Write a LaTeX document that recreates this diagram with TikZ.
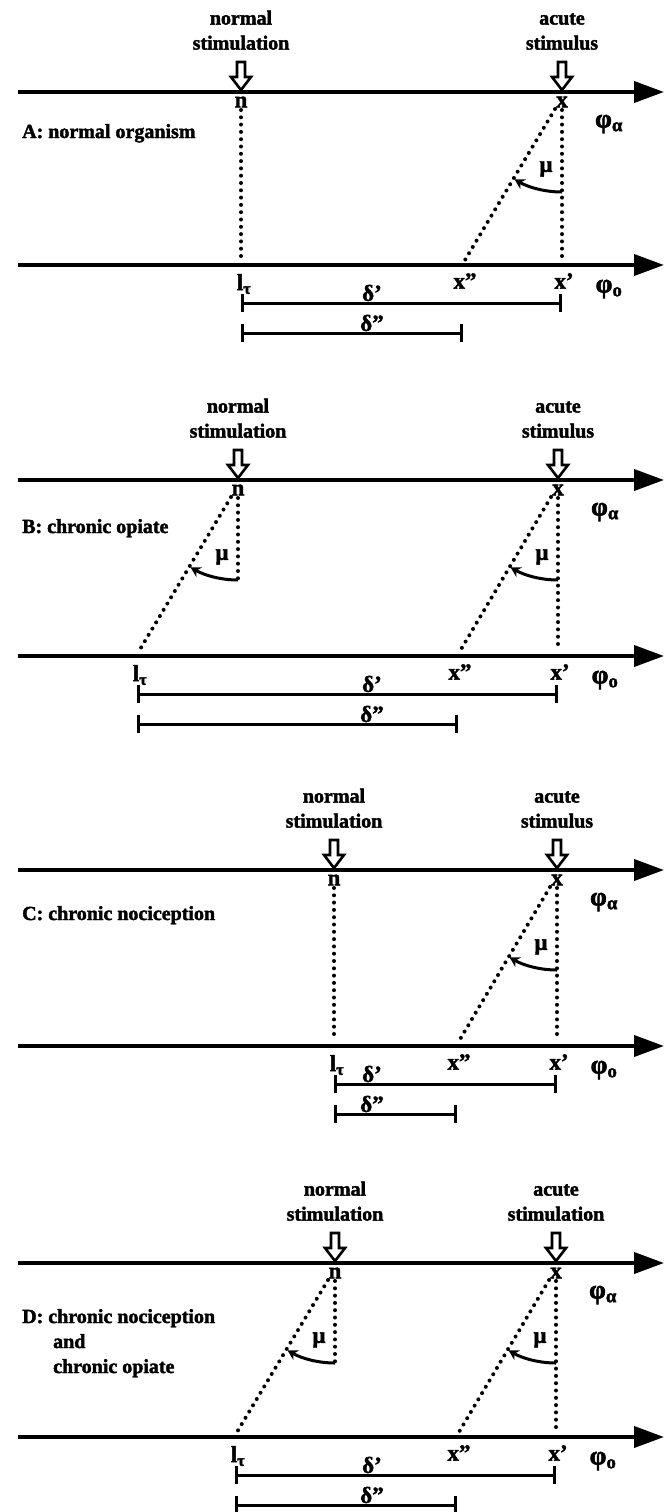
\documentclass[tikz,border=0pt]{standalone}
\usepackage{fontspec}
\setmainfont{Liberation Serif}[BoldFeatures={FakeBold=2}]
\usetikzlibrary{arrows.meta}

\tikzset{
  axis/.style={line width=3.8pt, -{Triangle[length=30pt,width=21pt]}},
  dotline/.style={line width=4pt, line cap=round, dash pattern=on 0pt off 7.3pt},
  angarc/.style={line width=3pt, -{Stealth[length=10pt,width=11pt]}},
  span/.style={line width=3pt, {Bar[width=18pt]}-{Bar[width=18pt]}},
  lbl/.style={font=\fontsize{20}{25}\selectfont\bfseries, inner sep=0pt},
  sym/.style={font=\fontsize{23}{25}\selectfont\bfseries, inner sep=0pt},
  bigsym/.style={font=\fontsize{27}{25}\selectfont\bfseries, inner sep=0pt},
  stim/.style={draw, line width=2.6pt, fill=white, line join=miter},
}

% #1 name, #2 upper axis y, #3 lower axis y, #4 x of n, #5 x of x,
% #6 x of l_tau, #7 x of x'', #8 second word of the acute label,
% #9 1 = slanted projection from n as well
\newcommand{\drawpanel}[9]{%
  % the two time axes
  \coordinate (#1-a0) at (18,#2);
  \coordinate (#1-a1) at (664,#2);
  \coordinate (#1-b0) at (18,#3);
  \coordinate (#1-b1) at (664,#3);
  \draw[axis] (#1-a0) -- (#1-a1);
  \draw[axis] (#1-b0) -- (#1-b1);
  % hollow stimulus arrows
  \draw[stim] (#4-4,#2-30) -- ++(8,0) -- ++(0,15) -- ++(6,0) -- (#4,#2-2)
        -- (#4-10,#2-15) -- ++(6,0) -- cycle;
  \draw[stim] (#5-4,#2-30) -- ++(8,0) -- ++(0,15) -- ++(6,0) -- (#5,#2-2)
        -- (#5-10,#2-15) -- ++(6,0) -- cycle;
  \node[lbl, align=center, anchor=south] (#1-ns) at (#4,#2-42) {normal\\stimulation};
  \node[lbl, align=center, anchor=south] (#1-as) at (#5,#2-42) {acute\\#8};
  % axis labels
  \node[sym] (#1-n) at (#4,#2+10) {n};
  \node[sym] (#1-x) at (#5,#2+10) {x};
  \node[bigsym] (#1-pa) at (#5+47,#2+32) {φ\textsubscript{α}};
  \node[sym] (#1-lt) at (#6+3,#3+19) {l\textsubscript{τ}};
  \node[sym] (#1-xdd) at (#7+2,#3+16) {x''};
  \node[sym] (#1-xd) at (#5+2,#3+16) {x'};
  \node[bigsym] (#1-po) at (#5+47,#3+24) {φ\textsubscript{o}};
  % projection of the acute stimulus
  \coordinate (#1-xt) at (#5,#2+18);
  \coordinate (#1-xb) at (#5,#3-5);
  \coordinate (#1-st) at (#5-7,#2+17);
  \coordinate (#1-sb) at (#7+2,#3-5);
  \coordinate (#1-xm) at (#5,#2+100);
  \draw[dotline] (#1-xt) -- (#1-xb);
  \draw[dotline] (#1-st) -- (#1-sb);
  \draw[angarc] (#1-xm) arc[start angle=90, end angle=120, radius=95];
  \node[sym] (#1-mux) at (#5-16,#2+77) {μ};
  % projection of the normal stimulation
  \coordinate (#1-nt) at (#4,#2+18);
  \ifnum#9=1
    \coordinate (#1-nm) at (#4,#2+100);
    \coordinate (#1-lst) at (#4-7,#2+17);
    \coordinate (#1-lsb) at (#6+2,#3-5);
    \draw[dotline] (#1-nt) -- (#1-nm);
    \draw[dotline] (#1-lst) -- (#1-lsb);
    \draw[angarc] (#1-nm) arc[start angle=90, end angle=120, radius=95];
    \node[sym] (#1-mun) at (#4-16,#2+77) {μ};
  \else
    \coordinate (#1-nb) at (#4,#3-5);
    \draw[dotline] (#1-nt) -- (#1-nb);
  \fi
  % distances delta' and delta''
  \coordinate (#1-d1a) at (#6,#3+38);
  \coordinate (#1-d1b) at (#5,#3+38);
  \coordinate (#1-d2a) at (#6,#3+68);
  \coordinate (#1-d2b) at (#7,#3+68);
  \draw[span] (#1-d1a) -- (#1-d1b);
  \draw[span] (#1-d2a) -- (#1-d2b);
  \node[sym] (#1-d1) at (372,#3+28) {δ'};
  \node[sym] (#1-d2) at (372,#3+58) {δ''};
}

\begin{document}
\begin{tikzpicture}[x=1pt, y=-1pt]
  \useasboundingbox (0,0) rectangle (664,1512);

  \drawpanel{A}{92}{265}{241}{562}{241}{463}{stimulus}{0}
  \node[lbl, anchor=base west] (labA) at (22,138) {A: normal organism};

  \drawpanel{B}{480}{656}{238}{558}{137}{458}{stimulus}{1}
  \node[lbl, anchor=base west] (labB) at (22,533) {B: chronic opiate};

  \drawpanel{C}{870}{1046}{334}{557}{334}{457}{stimulus}{0}
  \node[lbl, anchor=base west] (labC) at (22,920) {C: chronic nociception};

  \drawpanel{D}{1263}{1437}{335}{556}{235}{457}{stimulation}{1}
  \node[lbl, anchor=base west, align=left] (labD) at (22,1373)
    {D: chronic nociception\\\hspace*{31pt}and\\\hspace*{31pt}chronic opiate};
\end{tikzpicture}
\end{document}
